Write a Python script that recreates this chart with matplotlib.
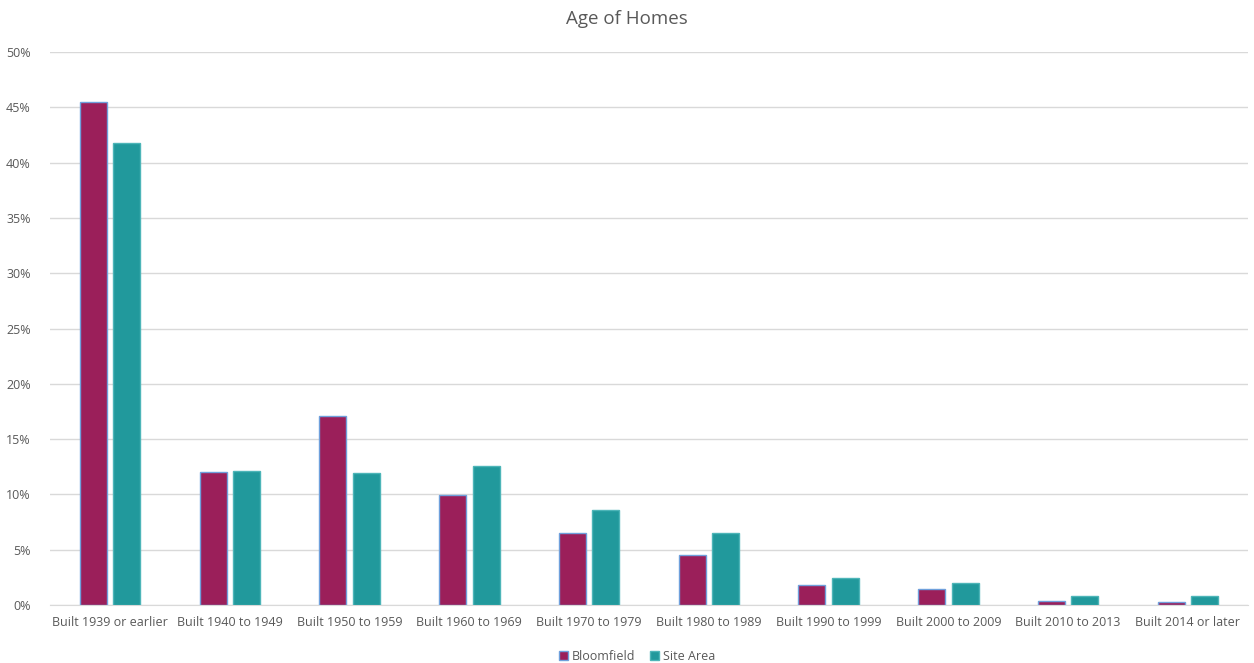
import numpy as np
import matplotlib
matplotlib.use("Agg")
import matplotlib.pyplot as plt
from matplotlib.ticker import PercentFormatter

# Données
categories = ["Built 1939 or earlier", "Built 1940 to 1949", "Built 1950 to 1959",
              "Built 1960 to 1969", "Built 1970 to 1979", "Built 1980 to 1989",
              "Built 1990 to 1999", "Built 2000 to 2009", "Built 2010 to 2013",
              "Built 2014 or later"]
bloomfield = [45.5, 12.0, 17.1, 9.95, 6.5, 4.5, 1.8, 1.45, 0.36, 0.27]
site_area = [41.8, 12.1, 11.9, 12.6, 8.6, 6.5, 2.45, 2.0, 0.8, 0.8]

plt.rcParams["font.family"] = ["Open Sans", "DejaVu Sans"]
grey = "#595959"

fig = plt.figure(figsize=(12.54, 6.63), dpi=100)
ax = fig.add_axes([0.04, 0.0875, 0.955, 0.834])

x = np.arange(len(categories))
w = 0.225
ax.bar(x - 0.14, bloomfield, w, color="#9B1F5A", edgecolor="#6FA0DC", linewidth=1, label="Bloomfield", zorder=3)
ax.bar(x + 0.14, site_area, w, color="#21999C", edgecolor="#4DB5B8", linewidth=1, label="Site Area", zorder=3)

ax.set_xlim(-0.5, len(categories) - 0.5)
ax.set_ylim(0, 50)
ax.set_yticks(np.arange(0, 51, 5))
ax.yaxis.set_major_formatter(PercentFormatter(decimals=0))
ax.set_xticks(x)
ax.set_xticklabels(categories)
ax.grid(axis="y", color="#D9D9D9", linewidth=1, zorder=0)
for s in ["top", "right", "left"]:
    ax.spines[s].set_visible(False)
ax.spines["bottom"].set_color("#D9D9D9")
ax.tick_params(axis="both", length=0, colors=grey, labelsize=9)
ax.tick_params(axis="x", pad=8)
ax.tick_params(axis="y", pad=14)

fig.suptitle("Age of Homes", y=0.985, fontsize=13.5, color=grey)
fig.legend(loc="lower center", bbox_to_anchor=(0.508, -0.017), ncol=2, frameon=False,
           fontsize=9, labelcolor=grey, handlelength=0.7, handleheight=0.7,
           handletextpad=0.3, columnspacing=1.2)

fig.savefig("out.png", dpi=100)
